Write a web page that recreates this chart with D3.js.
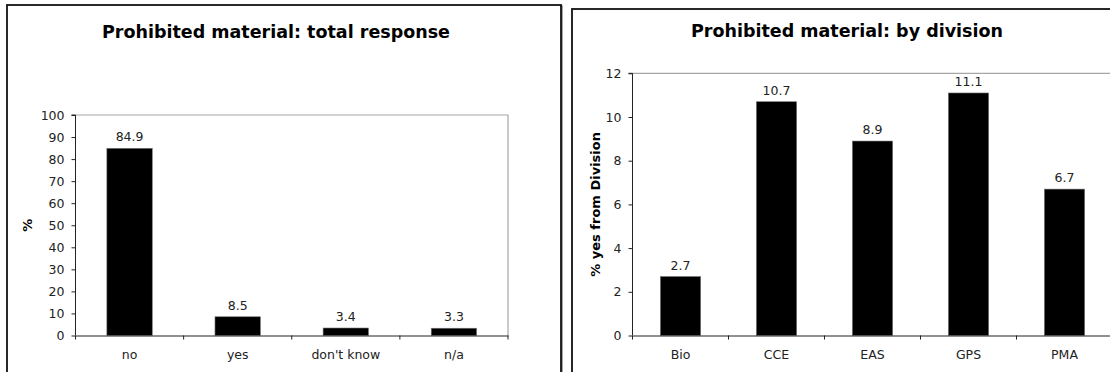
<!DOCTYPE html>
<html lang="en">
<head>
<meta charset="UTF-8" />
<title>Prohibited material</title>
<script src="https://d3js.org/d3.v7.min.js"></script>
<style>
  body { margin: 0; background: #fff; }
  text { font-family: "DejaVu Sans", Verdana, sans-serif; fill: #000; }
</style>
</head>
<body>
<svg id="chart" width="1110" height="372"></svg>
<script>
// data
const respCats = ["no", "yes", "don't know", "n/a"];
const respVals = [84.9, 8.5, 3.4, 3.3];
const respTicks = [0, 10, 20, 30, 40, 50, 60, 70, 80, 90, 100];

const divCats = ["Bio", "CCE", "EAS", "GPS", "PMA"];
const divVals = [2.7, 10.7, 8.9, 11.1, 6.7];
const divTicks = [0, 2, 4, 6, 8, 10, 12];

const svg = d3.select("#chart");

const panels = [
  {
    title: "Prohibited material: total response", yLabel: "%",
    cats: respCats, vals: respVals, ticks: respTicks, max: 100,
    box: { x: 7, y: 5, w: 554, h: 380 },
    plot: { x0: 75.5, x1: 508, y0: 115, y1: 335.5 },
    titleX: 276, titleY: 38, yLabelX: 32
  },
  {
    title: "Prohibited material: by division", yLabel: "% yes from Division",
    cats: divCats, vals: divVals, ticks: divTicks, max: 12,
    box: { x: 572, y: 9, w: 550, h: 380 },
    plot: { x0: 632.5, x1: 1112.5, y0: 73.3, y1: 335.5 },
    titleX: 847, titleY: 37, yLabelX: 600
  }
];

panels.forEach(p => {
  // chart frame
  svg.append("rect")
    .attr("x", p.box.x + 1).attr("y", p.box.y + 1)
    .attr("width", p.box.w).attr("height", p.box.h)
    .attr("fill", "none").attr("stroke", "#888").attr("stroke-width", 1.5);
  svg.append("rect")
    .attr("x", p.box.x).attr("y", p.box.y)
    .attr("width", p.box.w).attr("height", p.box.h)
    .attr("fill", "#fff").attr("stroke", "#111").attr("stroke-width", 1.8);

  const x = d3.scaleBand()
    .domain(p.cats)
    .range([p.plot.x0, p.plot.x1])
    .paddingInner(0.58)
    .paddingOuter(0.29);

  const y = d3.scaleLinear()
    .domain([0, p.max])
    .range([p.plot.y1, p.plot.y0]);

  // plot area top/right border
  svg.append("path")
    .attr("d", `M${p.plot.x0},${p.plot.y0}H${p.plot.x1}V${p.plot.y1}`)
    .attr("fill", "none").attr("stroke", "#a6a6a6").attr("stroke-width", 1.2);

  // bars
  svg.append("g").selectAll("rect")
    .data(p.vals)
    .join("rect")
    .attr("x", (d, i) => x(p.cats[i]))
    .attr("y", d => y(d))
    .attr("width", x.bandwidth())
    .attr("height", d => y(0) - y(d))
    .attr("fill", "#000")
    .attr("stroke", "#777")
    .attr("stroke-width", 0.6);

  // value labels
  svg.append("g").selectAll("text")
    .data(p.vals)
    .join("text")
    .attr("x", (d, i) => x(p.cats[i]) + x.bandwidth() / 2)
    .attr("y", d => y(d) - 7)
    .attr("text-anchor", "middle")
    .style("font-size", "12.5px")
    .style("fill", "#222")
    .text(d => d.toFixed(1));

  // y axis
  const yAxis = svg.append("g")
    .attr("transform", `translate(${p.plot.x0},0)`)
    .call(d3.axisLeft(y).tickValues(p.ticks).tickSize(4).tickPadding(7).tickFormat(d3.format("d")));
  yAxis.selectAll("text").style("font-size", "12.5px").style("fill", "#222");
  yAxis.selectAll("line, path").attr("stroke", "#222");
  yAxis.select(".domain").attr("d", `M-4,${y(p.max)}H0V${y(0)}`);

  // x axis
  const xAxis = svg.append("g")
    .attr("transform", `translate(0,${p.plot.y1})`)
    .call(d3.axisBottom(x).tickSize(0).tickPadding(15));
  xAxis.selectAll("text").style("font-size", "12.5px").style("fill", "#222");
  xAxis.select(".domain").attr("stroke", "#222");

  // boundary ticks between categories
  const step = x.step();
  const bounds = p.cats.map(c => x(c) - step * x.paddingInner() / 2).concat([p.plot.x1]);
  xAxis.append("g").selectAll("line")
    .data(bounds)
    .join("line")
    .attr("x1", d => d).attr("x2", d => d)
    .attr("y1", 0).attr("y2", 4)
    .attr("stroke", "#222");

  // title
  svg.append("text")
    .attr("x", p.titleX).attr("y", p.titleY)
    .attr("text-anchor", "middle")
    .style("font-size", "17.5px").style("font-weight", "bold")
    .text(p.title);

  // y label
  svg.append("text")
    .attr("transform", `translate(${p.yLabelX},${(p.plot.y0 + p.plot.y1) / 2}) rotate(-90)`)
    .attr("text-anchor", "middle")
    .style("font-size", "13px").style("font-weight", "bold")
    .text(p.yLabel);
});
</script>
</body>
</html>
